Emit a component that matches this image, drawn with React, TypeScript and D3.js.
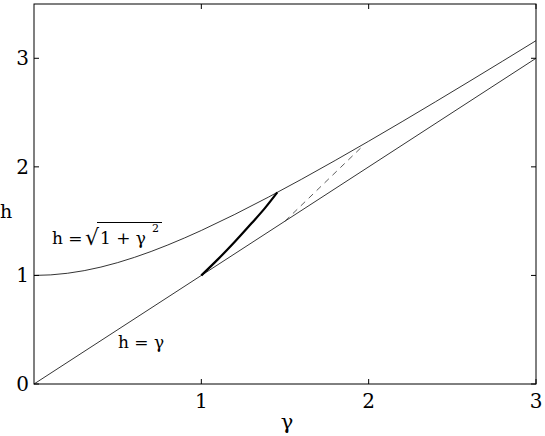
import React from 'react';
import * as d3 from 'd3';

const xTicks = [1, 2, 3];
const yTicks = [0, 1, 2, 3];
// gamma samples for the two analytic curves
const gammaGrid = [0, 0.1, 0.2, 0.3, 0.4, 0.5, 0.6, 0.7, 0.8, 0.9, 1, 1.2, 1.4, 1.6, 1.8, 2, 2.2, 2.4, 2.6, 2.8, 3];
// bold transition curve
const boldGamma = [1, 1.1, 1.2, 1.3, 1.38, 1.454];
const boldH = [1, 1.15, 1.31, 1.48, 1.62, 1.765];
// dashed segment
const dashGamma = [1.5, 1.97];
const dashH = [1.5, 2.2];

const W = 545;
const H = 436;
const left = 34;
const right = 536;
const top = 4;
const bottom = 384;
const font = 'DejaVu Serif';

export default function App() {
  const x = d3.scaleLinear().domain([0, 3]).range([left, right]);
  const y = d3.scaleLinear().domain([0, 3.5]).range([bottom, top]);
  const line = d3.line<[number, number]>().x(d => x(d[0])).y(d => y(d[1]));

  const hyper = line(gammaGrid.map(g => [g, Math.sqrt(1 + g * g)] as [number, number]));
  const diag = line([[0, 0], [3, 3]]);
  const bold = d3.line<[number, number]>().x(d => x(d[0])).y(d => y(d[1])).curve(d3.curveMonotoneX)(
    boldGamma.map((g, i) => [g, boldH[i]] as [number, number]));
  const dashed = line(dashGamma.map((g, i) => [g, dashH[i]] as [number, number]));

  return (
    <svg width={W} height={H} style={{ position: 'absolute', left: 0, top: 0, background: '#fff' }}>
      <path d={hyper || ''} fill="none" stroke="#000" strokeWidth={0.8} />
      <path d={diag || ''} fill="none" stroke="#000" strokeWidth={0.8} />
      <path d={bold || ''} fill="none" stroke="#000" strokeWidth={2.2} />
      <path d={dashed || ''} fill="none" stroke="#333" strokeWidth={0.8} strokeDasharray="6,5" />

      {/* axes box */}
      <rect x={left} y={top} width={right - left} height={bottom - top} fill="none" stroke="#000" strokeWidth={1} />
      {xTicks.map(t => (
        <g key={'x' + t}>
          <line x1={x(t)} x2={x(t)} y1={bottom} y2={bottom - 5} stroke="#000" />
          <line x1={x(t)} x2={x(t)} y1={top} y2={top + 5} stroke="#000" />
          <text x={x(t)} y={408} textAnchor="middle" fontFamily={font} fontSize={20}>{t}</text>
        </g>
      ))}
      {yTicks.map(t => (
        <g key={'y' + t}>
          <line x1={left} x2={left + 5} y1={y(t)} y2={y(t)} stroke="#000" />
          <line x1={right} x2={right - 5} y1={y(t)} y2={y(t)} stroke="#000" />
          <text x={29} y={y(t) + 7} textAnchor="end" fontFamily={font} fontSize={20}>{t}</text>
        </g>
      ))}

      <text x={287} y={429} textAnchor="middle" fontFamily={font} fontSize={21}>γ</text>
      <text x={0} y={218} fontFamily={font} fontSize={19}>h</text>

      {/* curve labels */}
      <text x={52} y={244} fontFamily={font} fontSize={17}>h =</text>
      <text x={85} y={245} fontFamily={font} fontSize={22}>√</text>
      <line x1={97} x2={162} y1={222.5} y2={222.5} stroke="#000" strokeWidth={1} />
      <text x={100} y={244} fontFamily={font} fontSize={17}>1 + γ</text>
      <text x={152} y={232} fontFamily={font} fontSize={11}>2</text>

      <text x={118} y={348} fontFamily={font} fontSize={17}>h = γ</text>
    </svg>
  );
}
